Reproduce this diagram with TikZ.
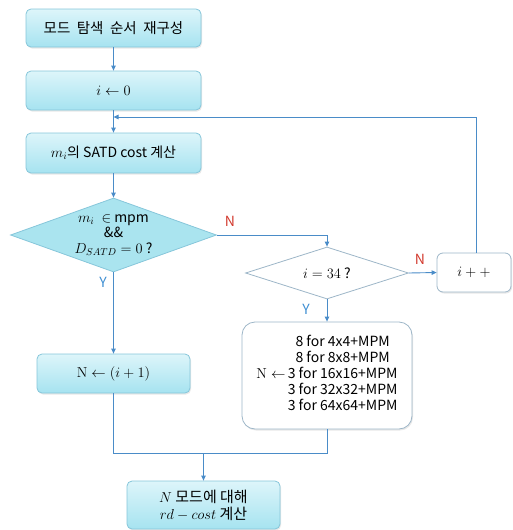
\documentclass[tikz,border=0pt]{standalone}
\usepackage[no-math]{fontspec}
\setmainfont{Noto Sans CJK KR}
\usetikzlibrary{shapes.geometric,arrows.meta,shadows}
\definecolor{linec}{HTML}{4A8CC8}
\definecolor{boxedge}{HTML}{86C6DA}
\definecolor{boxtop}{HTML}{DDF5FA}
\definecolor{boxbot}{HTML}{A6E3F0}
\definecolor{dfill}{HTML}{AAE4EF}
\definecolor{wedge}{HTML}{9DB6C8}
\definecolor{nred}{HTML}{D23A2E}
\definecolor{yblue}{HTML}{3F8FD2}
\tikzset{
  cbox/.style={draw=boxedge, line width=0.8pt, rounded corners=5pt, top color=boxtop, bottom color=boxbot,
    drop shadow={shadow xshift=1pt, shadow yshift=-1.5pt, opacity=0.18}, align=center, inner sep=0pt, font=\fontsize{14}{17}\selectfont},
  wbox/.style={draw=wedge, line width=0.8pt, fill=white, align=center, inner sep=0pt,
    drop shadow={shadow xshift=1pt, shadow yshift=-1.5pt, opacity=0.18}, font=\fontsize{14}{17}\selectfont},
  cdia/.style={diamond, draw=boxedge, line width=0.8pt, fill=dfill, inner sep=0pt, aspect=2.78, align=center, font=\fontsize{14}{15.5}\selectfont},
  wdia/.style={diamond, draw=wedge, line width=0.8pt, fill=white, inner sep=0pt, aspect=3.1, align=center, font=\fontsize{14}{15.5}\selectfont},
  conn/.style={draw=linec, line width=0.9pt},
  arr/.style={conn, -{Triangle[length=5pt,width=4.5pt]}},
  nlab/.style={text=nred, font=\fontsize{14}{14}\selectfont},
  ylab/.style={text=yblue, font=\fontsize{14}{14}\selectfont}
}
\begin{document}
\begin{tikzpicture}[x=1pt,y=-1pt]
\useasboundingbox (0,0) rectangle (512,530);
\node[cbox, minimum width=175pt, minimum height=38pt, font=\fontsize{14.5}{17}\selectfont] (b1) at (113.5,28) {모드\ \ 탐색\ \ 순서\ \ 재구성};
\node[cbox, minimum width=175pt, minimum height=39pt] (b2) at (113.5,90.5) {$i \leftarrow 0$};
\node[cbox, minimum width=175pt, minimum height=40pt] (b3) at (113.5,153) {$m_i$의 SATD cost 계산};
\node[cdia, minimum width=206pt, minimum height=74pt] (d1) at (113.5,235) {$m_i\ \in$ mpm\\\&\&\\$D_{SATD}=0$ ?};
\node[wdia, minimum width=163pt, minimum height=52pt] (d2) at (327,273) {$i=34$ ?};
\node[wbox, rounded corners=6pt, minimum width=74pt, minimum height=39pt] (ipp) at (474,272.5) {$i++$};
\node[wbox, rounded corners=13pt, minimum width=170pt, minimum height=107pt, font=\fontsize{14}{15.7}\selectfont] (big) at (327,375.5)
  {\begin{tabular}{@{}r@{\,}c@{}}
   & 8 for 4x4+MPM\\
   & 8 for 8x8+MPM\\
   $\mathrm{N}\leftarrow$ & 3 for 16x16+MPM\\
   & 3 for 32x32+MPM\\
   & 3 for 64x64+MPM
   \end{tabular}};
\node[cbox, minimum width=153pt, minimum height=39pt] (b4) at (113.5,373.5) {$\mathrm{N} \leftarrow (i+1)$};
\node[cbox, minimum width=153pt, minimum height=48pt, font=\fontsize{15}{17}\selectfont] (b5) at (203.5,505) {$N$\ 모드에\ 대해\\$rd-cost$\ 계산};
\coordinate (loopj) at (113.5,117);
\coordinate (loopc) at (476,117);
\coordinate (nc) at (327,235);
\coordinate (mL) at (113.5,453);
\coordinate (mR) at (327,453);
\coordinate (mM) at (203.5,453);
\draw[arr] (b1) -- (b2);
\draw[arr] (b2) -- (b3);
\draw[arr] (b3) -- (d1);
\draw[arr] (ipp.north -| loopc) -- (loopc) -- (loopj);
\draw[arr] (d1.east) -- (nc) -- (d2.north);
\draw[arr] (d2.east) -- (ipp.west);
\draw[arr] (d2.south) -- (big.north);
\draw[arr] (d1.south) -- (b4.north);
\draw[conn] (b4.south) -- (mL) -- (mR) -- (big.south);
\draw[arr] (mM) -- (b5.north);
\node[nlab] (n1) at (230,221) {N};
\node[nlab] (n2) at (420,259) {N};
\node[ylab] (y1) at (103,282) {Y};
\node[ylab] (y2) at (306,309) {Y};
\end{tikzpicture}
\end{document}
